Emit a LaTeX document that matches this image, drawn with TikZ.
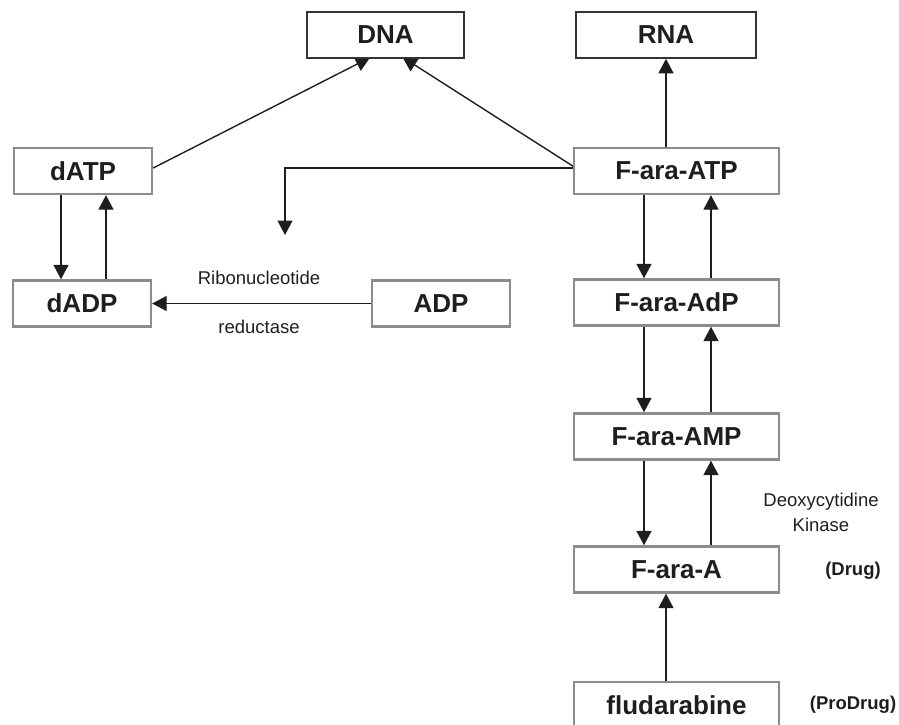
\documentclass[tikz,border=0pt]{standalone}
\usepackage{fontspec}
\setmainfont{Liberation Sans}
\usetikzlibrary{arrows.meta,backgrounds}
\definecolor{boxgrey}{HTML}{8C8C8C}
\definecolor{boxdark}{HTML}{333333}
\definecolor{linec}{HTML}{1E1E1E}
\begin{document}
\begin{tikzpicture}[x=1pt,y=-1pt,
  box/.style={draw=boxgrey,line width=2.4pt,fill=white,minimum height=46pt,inner sep=0pt,text=linec,font=\fontsize{26}{30}\selectfont\bfseries},
  topbox/.style={box,draw=boxdark,line width=1.6pt},
  conn/.style={draw=linec,line width=1.4pt,-{Triangle[length=14.5pt,width=15pt]}},
  lbl/.style={inner sep=0pt,text=linec,font=\fontsize{18.5}{22}\selectfont},
  blbl/.style={inner sep=0pt,text=linec,font=\fontsize{18.5}{22}\selectfont\bfseries}]
\useasboundingbox (0,0) rectangle (899,725);

\node[topbox,minimum width=157pt] (DNA) at (385.5,35) {DNA};
\node[topbox,minimum width=180pt] (RNA) at (666,35) {RNA};
\node[box,minimum width=138pt] (dATP) at (83,171) {dATP};
\node[box,minimum width=138pt] (dADP) at (82,303.5) {dADP};
\node[box,minimum width=138pt] (ADP) at (441,303.5) {ADP};
\node[box,minimum width=205pt] (fATP) at (676.5,171) {F-ara-ATP};
\node[box,minimum width=205pt] (fAdP) at (676.5,302.5) {F-ara-AdP};
\node[box,minimum width=205pt] (fAMP) at (676.5,436.5) {F-ara-AMP};
\node[box,minimum width=205pt] (fA) at (676.5,569.5) {F-ara-A};
\node[box,minimum width=205pt] (flu) at (676.5,705) {fludarabine};

\node[lbl] (rib) at (259,278) {Ribonucleotide};
\node[lbl] (red) at (259,327) {reductase};
\node[lbl] (deo) at (821,502) {Deoxycytidine};
\node[lbl] (kin) at (821,525) {Kinase};
\node[blbl] (drug) at (853,571) {(Drug)};
\node[blbl] (pro) at (853,705) {(ProDrug)};

\coordinate (inhib) at (285,235);

\begin{pgfonlayer}{background}
\draw[conn,shorten >=-3pt] ([yshift=3pt]dATP.east) -- ([xshift=-18pt]DNA.south);
\draw[conn,shorten >=-3pt] ([yshift=3pt,xshift=3pt]fATP.west) -- ([xshift=19.5pt]DNA.south);
\draw[conn] ([yshift=3pt,xshift=3pt]fATP.west) -| (inhib);
\draw[conn] (fATP.north -| RNA.south) -- (RNA.south);
\draw[conn] ([xshift=-22pt]dATP.south) -- ([xshift=-21pt]dADP.north);
\draw[conn] ([xshift=24pt]dADP.north) -- ([xshift=23pt]dATP.south);
\draw[conn] (ADP.west) -- (dADP.east);
\draw[conn] ([xshift=-32.5pt]fATP.south) -- ([xshift=-32.5pt]fAdP.north);
\draw[conn] ([xshift=34.5pt]fAdP.north) -- ([xshift=34.5pt]fATP.south);
\draw[conn] ([xshift=-32.5pt]fAdP.south) -- ([xshift=-32.5pt]fAMP.north);
\draw[conn] ([xshift=34.5pt]fAMP.north) -- ([xshift=34.5pt]fAdP.south);
\draw[conn] ([xshift=-32.5pt]fAMP.south) -- ([xshift=-32.5pt]fA.north);
\draw[conn] ([xshift=34.5pt]fA.north) -- ([xshift=34.5pt]fAMP.south);
\draw[conn] ([xshift=-10.5pt]flu.north) -- ([xshift=-10.5pt]fA.south);
\end{pgfonlayer}
\end{tikzpicture}
\end{document}
